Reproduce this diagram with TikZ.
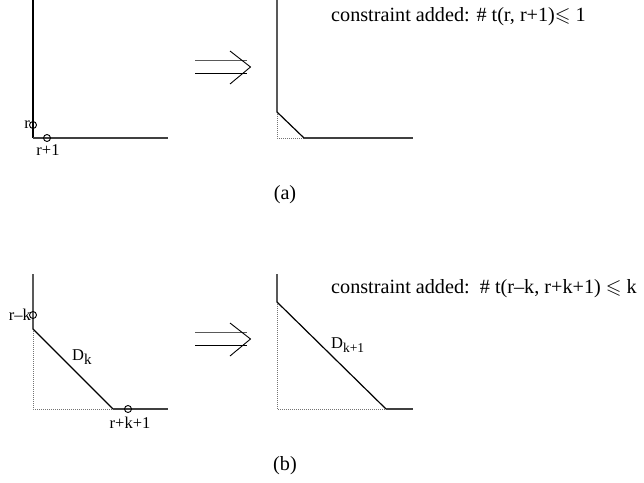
\documentclass[tikz,border=0pt]{standalone}
\usepackage{amssymb}
\usepackage{fontspec}
\setmainfont{Liberation Serif}
\tikzset{
  curve/.style={line width=1.2pt, line join=miter},
  base/.style={line width=1.3pt, draw=black!75},
  guide/.style={line width=0.6pt, draw=black!55, dash pattern=on 0.8pt off 1.2pt},
  ring/.style={circle, draw, line width=0.9pt, minimum size=7pt, inner sep=0pt},
  lbl/.style={inner sep=0pt, font=\fontsize{16.5}{19}\selectfont},
  big/.style={inner sep=0pt, font=\fontsize{20.2}{24}\selectfont},
  impl/.style={line width=0.9pt},
}
\begin{document}
\begin{tikzpicture}[x=1pt,y=-1pt]
\useasboundingbox (0,0) rectangle (644,482);
% ---------- (a) left
\coordinate (a1) at (33,0);
\coordinate (a2) at (33,138);
\coordinate (a3) at (168,138);
\draw[curve] (a1) -- (a2);
\draw[base] (a2) -- (a3);
\node[ring] (ra) at (33,125) {};
\node[ring] (ra1) at (47,138) {};
\node[lbl, anchor=east] (lr) at (30,125) {r};
\node[lbl] (lr1) at (48,150) {r+1};
% ---------- (a) arrow
\coordinate (ia1) at (195,60.5);
\coordinate (ia2) at (247,60.5);
\coordinate (ib1) at (195,73.5);
\coordinate (ib2) at (247,73.5);
\coordinate (ih1) at (230,51);
\coordinate (ih2) at (250.5,67);
\coordinate (ih3) at (230,84);
\draw[impl, draw=black!65] (ia1) -- (ia2);
\draw[impl] (ib1) -- (ib2);
\draw[impl] (ih1) -- (ih2) -- (ih3);
% ---------- (a) right
\coordinate (b1) at (277,0);
\coordinate (b2) at (277,112);
\coordinate (b3) at (304,138);
\coordinate (b4) at (413,138);
\coordinate (b0) at (277,138);
\draw[guide] (b2) -- (b0) -- (b3);
\draw[curve] (b1) -- (b2) -- (b3);
\draw[base] (b3) -- (b4);
\node[big, anchor=west] (ta) at (331,17) {constraint added: \# t(r, r+1)$\leqslant$\ 1};
\node[big] (capa) at (285,195) {(a)};
% ---------- (b) left
\coordinate (c1) at (33,274);
\coordinate (c2) at (33,329);
\coordinate (c3) at (113,409);
\coordinate (c4) at (168,409);
\coordinate (c0) at (33,409);
\draw[guide] (c2) -- (c0) -- (c3);
\draw[curve] (c1) -- (c2) -- (c3);
\draw[base] (c3) -- (c4);
\node[ring] (rk) at (33,315) {};
\node[ring] (rk1) at (128,409) {};
\node[lbl, anchor=east] (lrk) at (31,315) {r\textendash k};
\node[lbl] (lrk1) at (130,423) {r+k+1};
\node[lbl, anchor=west] (dk) at (72,357) {D\raisebox{-0.55ex}{\fontsize{15}{17}\selectfont k}};
% ---------- (b) arrow
\coordinate (ja1) at (195,332.5);
\coordinate (ja2) at (247,332.5);
\coordinate (jb1) at (195,345.5);
\coordinate (jb2) at (247,345.5);
\coordinate (jh1) at (230,323);
\coordinate (jh2) at (250.5,339);
\coordinate (jh3) at (230,356);
\draw[impl, draw=black!65] (ja1) -- (ja2);
\draw[impl] (jb1) -- (jb2);
\draw[impl] (jh1) -- (jh2) -- (jh3);
% ---------- (b) right
\coordinate (d1) at (277,274);
\coordinate (d2) at (277,302);
\coordinate (d3) at (386,409);
\coordinate (d4) at (413,409);
\coordinate (d0) at (277,409);
\draw[guide] (d2) -- (d0) -- (d3);
\draw[curve] (d1) -- (d2) -- (d3);
\draw[base] (d3) -- (d4);
\node[lbl, anchor=west] (dk1) at (331,345) {D\raisebox{-0.6ex}{\fontsize{13.5}{16}\selectfont k+1}};
\node[big, anchor=west] (tb) at (331,289) {constraint added:\ \ \# t(r\textendash k, r+k+1) $\leqslant$\ k};
\node[big] (capb) at (285,466) {(b)};
\end{tikzpicture}
\end{document}
